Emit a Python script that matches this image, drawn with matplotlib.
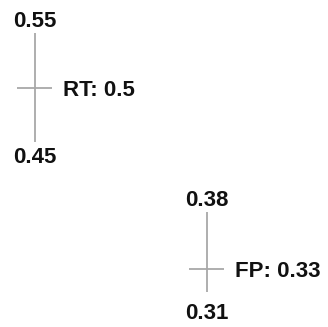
import matplotlib
matplotlib.use("Agg")
import matplotlib.pyplot as plt

names = ["RT", "FP"]
values = [0.5, 0.33]
lows = [0.45, 0.31]
highs = [0.55, 0.38]
value_labels = ["0.5", "0.33"]
low_labels = ["0.45", "0.31"]
high_labels = ["0.55", "0.38"]

W, H = 328, 327
fig = plt.figure(figsize=(W / 100, H / 100), dpi=100)

# pixel layout of each cross: left, top, width, height (vertical extent = low..high)
boxes = [(17, 33, 35, 109), (189, 212, 35, 80)]
label_gaps = [11, 11]
bottom_gaps = [3.8, 8.0]

font = dict(family=["Liberation Sans", "DejaVu Sans"], fontweight="bold",
            fontsize=16, color="#111111")

for name, v, lo, hi, vl, ll, hl, box, gap, bgap in zip(
        names, values, lows, highs, value_labels, low_labels, high_labels,
        boxes, label_gaps, bottom_gaps):
    l, t, w, h = box
    ax = fig.add_axes([l / W, 1 - (t + h) / H, w / W, h / H])
    ax.set_xlim(-1, 1)
    ax.set_ylim(lo, hi)
    ax.axis("off")
    ax.plot([0, 0], [lo, hi], color="#a8a8a8", lw=1.3, solid_capstyle="butt")
    ax.plot([-1, 1], [v, v], color="#a8a8a8", lw=1.3, solid_capstyle="butt")
    ax.annotate(hl, (0, hi), xytext=(0, 4.3), textcoords="offset points",
                ha="center", va="baseline", **font)
    ax.annotate(ll, (0, lo), xytext=(0, -bgap), textcoords="offset points",
                ha="center", va="top", **font)
    ax.annotate(f"{name}: {vl}", (1, v), xytext=(gap * 0.72, 0),
                textcoords="offset points", ha="left", va="center_baseline",
                **font)

fig.savefig("out.png", dpi=100)
